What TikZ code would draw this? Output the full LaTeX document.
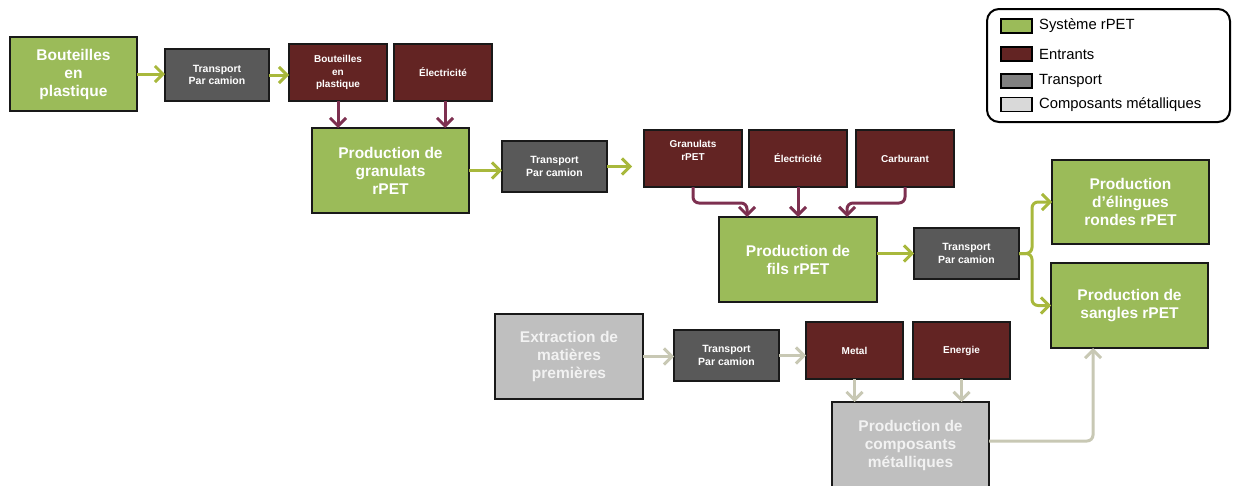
\documentclass[tikz,border=0pt]{standalone}
\usepackage{fontspec}
\setmainfont{Liberation Sans}
\usetikzlibrary{arrows.meta}
\definecolor{cgreen}{HTML}{9BBB59}
\definecolor{cmaroon}{HTML}{632423}
\definecolor{ctrans}{HTML}{595959}
\definecolor{cmetal}{HTML}{BFBFBF}
\definecolor{agreen}{HTML}{A8B83C}
\definecolor{amaroon}{HTML}{7D3050}
\definecolor{alight}{HTML}{C8C8B4}
\definecolor{lgray}{HTML}{808080}
\definecolor{llight}{HTML}{D9D9D9}
\begin{document}
\begin{tikzpicture}[x=1pt,y=-1pt,
  boxbase/.style={draw=black!90,line width=1.8pt,inner sep=0pt,outer sep=0pt,align=center,font=\bfseries},
  greenbox/.style={boxbase,fill=cgreen,text=white,font=\fontsize{15.5}{18}\selectfont\bfseries},
  metbox/.style={boxbase,fill=cmetal,text=white!95!black,font=\fontsize{15.5}{18}\selectfont\bfseries},
  inbox/.style={boxbase,fill=cmaroon,text=white,minimum width=98pt,minimum height=57pt,font=\fontsize{10}{12.3}\selectfont\bfseries},
  trbox/.style={boxbase,fill=ctrans,text=white,minimum width=105pt,minimum height=51pt,font=\fontsize{10.5}{12.5}\selectfont\bfseries},
  tipstyle/.style={-{Straight Barb[length=8pt,width=16pt]}},
  garrow/.style={draw=agreen,line width=3pt,tipstyle},
  marrow/.style={draw=amaroon,line width=3pt,tipstyle},
  larrow/.style={draw=alight,line width=3pt,tipstyle},
  swatch/.style={draw=black,line width=1.5pt,minimum width=31pt,minimum height=14pt,inner sep=0pt},
  legtext/.style={anchor=west,inner sep=0pt,font=\fontsize{14.8}{17}\selectfont}
]
\useasboundingbox (0,0) rectangle (1238,485);

% green system boxes
\node[greenbox,minimum width=127pt,minimum height=74pt] (b1) at (73.5,74) {Bouteilles\\en\\plastique};
\node[greenbox,minimum width=157pt,minimum height=85pt] (g1) at (390.5,170.5) {Production de\\granulats\\rPET};
\node[greenbox,minimum width=158pt,minimum height=85pt] (g2) at (798,259.5) {Production de\\fils rPET};
\node[greenbox,minimum width=157pt,minimum height=84pt] (g3) at (1130.5,202) {Production\\d’élingues\\rondes rPET};
\node[greenbox,minimum width=157pt,minimum height=85pt] (g4) at (1129.5,305.5) {Production de\\sangles rPET};

% transport boxes
\node[trbox,minimum width=104pt,minimum height=52pt] (t1) at (217,75) {Transport\\Par camion};
\node[trbox] (t2) at (554.5,166.5) {Transport\\Par camion};
\node[trbox] (t3) at (966.5,253.5) {Transport\\Par camion};
\node[trbox] (t4) at (726.5,355.5) {Transport\\Par camion};

% inputs
\node[inbox] (i1) at (338,72.5) {Bouteilles\\en\\plastique};
\node[inbox] (i2) at (443,72.5) {Électricité};
\node[inbox] (i3) at (693,158.5) {Granulats\\rPET\\[4pt]};
\node[inbox] (i4) at (798,158.5) {Électricité};
\node[inbox] (i5) at (905,158.5) {Carburant};
\node[inbox,minimum width=97pt] (i6) at (854.5,350.5) {Metal};
\node[inbox,minimum width=97pt] (i7) at (961.5,350.5) {Energie};

% metal components
\node[metbox,minimum width=148pt,minimum height=85pt] (m1) at (569,356.5) {Extraction de\\matières\\premières};
\node[metbox,minimum width=157pt,minimum height=86pt] (m2) at (910.5,445) {Production de\\composants\\métalliques};

% green arrows
\draw[garrow] (b1.east) -- (b1.east -| t1.west);
\draw[garrow] (t1.east) -- (t1.east -| i1.west);
\draw[garrow] (g1.east) -- (g1.east -| t2.west);
\draw[garrow] (t2.east) -- ([xshift=-12pt]t2.east -| i3.west);
\draw[garrow] (g2.east |- t3.west) -- (t3.west);
\draw[garrow,rounded corners=6pt] (t3.east) -- ++(13,0) |- (g3.west);
\draw[garrow,rounded corners=6pt] (t3.east) -- ++(13,0) |- (g4.west);

% maroon arrows
\draw[marrow] (i1.south) -- (i1.south |- g1.north);
\draw[marrow] ([xshift=2pt]i2.south) -- ([xshift=2pt]i2.south |- g1.north);
\draw[marrow,rounded corners=6pt] (i3.south) -- ++(0,16) -| ([xshift=-51pt]g2.north);
\draw[marrow] (i4.south) -- (g2.north);
\draw[marrow,rounded corners=6pt] (i5.south) -- ++(0,16) -| ([xshift=49pt]g2.north);

% light arrows
\draw[larrow] (m1.east) -- (m1.east -| t4.west);
\draw[larrow] (t4.east) -- (t4.east -| i6.west);
\draw[larrow] (i6.south) -- (i6.south |- m2.north);
\draw[larrow] (i7.south) -- (i7.south |- m2.north);
\draw[larrow,rounded corners=6pt] ([yshift=4pt]m2.east) -| ([xshift=-36.5pt]g4.south);

% legend
\node[draw=black,line width=2pt,rounded corners=12pt,minimum width=243pt,minimum height=113pt,inner sep=0pt] (leg) at (1108.5,65.5) {};
\node[swatch,fill=cgreen] (s1) at (1016.5,26) {};
\node[swatch,fill=cmaroon] (s2) at (1016.5,54) {};
\node[swatch,fill=lgray] (s3) at (1016.5,81) {};
\node[swatch,fill=llight] (s4) at (1016.5,104.5) {};
\node[legtext] (l1) at (1039,26) {Système rPET};
\node[legtext] (l2) at (1039,54) {Entrants};
\node[legtext] (l3) at (1039,81) {Transport};
\node[legtext] (l4) at (1039,104.5) {Composants métalliques};
\end{tikzpicture}
\end{document}
